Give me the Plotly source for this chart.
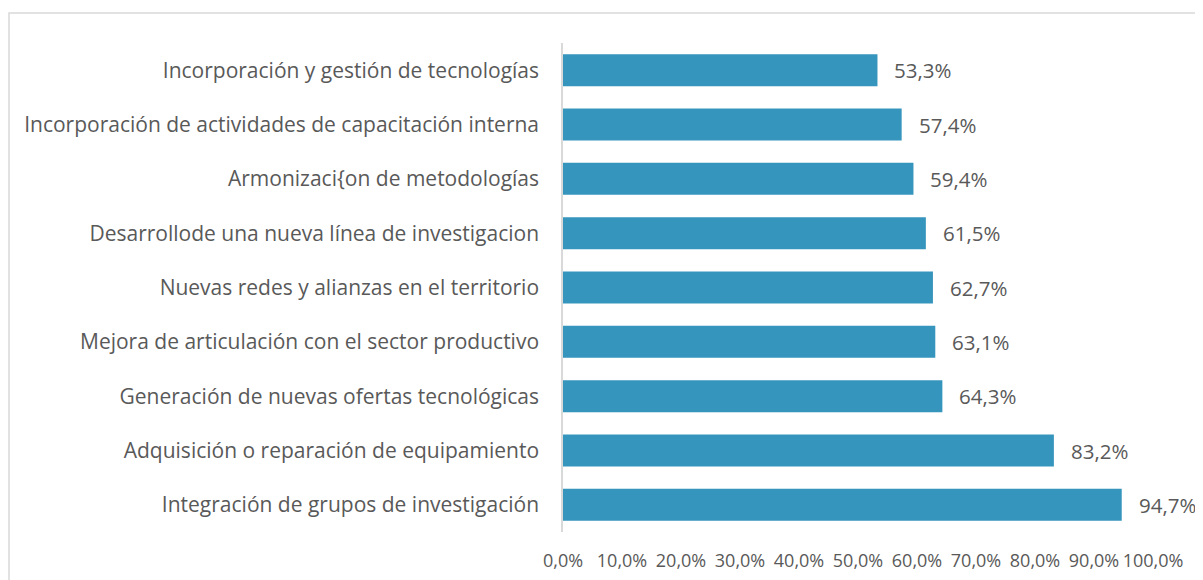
import plotly.graph_objects as go

categories = [
    "Incorporación y gestión de tecnologías",
    "Incorporación de actividades de capacitación interna",
    "Armonizaci{on de metodologías",
    "Desarrollode una nueva línea de investigacion",
    "Nuevas redes y alianzas en el territorio",
    "Mejora de articulación con el sector productivo",
    "Generación de nuevas ofertas tecnológicas",
    "Adquisición o reparación de equipamiento",
    "Integración de grupos de investigación",
]
values = [53.3, 57.4, 59.4, 61.5, 62.7, 63.1, 64.3, 83.2, 94.7]
value_labels = [f"{v:.1f}%".replace(".", ",") for v in values]
tick_values = [0, 10, 20, 30, 40, 50, 60, 70, 80, 90, 100]
tick_labels = [f"{t:.1f}%".replace(".", ",") for t in tick_values]

FONT = "'Open Sans', sans-serif"
GRAY = "#595959"

# page body has an 8px margin; figure is sized/offset to compensate
W, H = 1195, 572
L, R, T, B = 555, 50, 35, 48
PW, PH = W - L - R, H - T - B

fig = go.Figure()
fig.add_trace(go.Bar(
    x=values, y=categories, orientation="h",
    marker=dict(color="#3595bc", line=dict(width=0)),
    width=0.59,
    hoverinfo="x+y",
))

for c, v, t in zip(categories, values, value_labels):
    fig.add_annotation(x=v, y=c, text=t, showarrow=False, xanchor="left",
                       xshift=15, font=dict(family=FONT, size=20.5, color=GRAY))

fig.update_layout(
    width=W, height=H,
    margin=dict(l=L, r=R, t=T, b=B, autoexpand=False),
    paper_bgcolor="white", plot_bgcolor="white",
    showlegend=False,
    font=dict(family=FONT, color=GRAY),
    xaxis=dict(range=[0, 100], tickvals=tick_values, ticktext=tick_labels,
               showgrid=False, zeroline=False, showline=False, automargin=False,
               tickfont=dict(family=FONT, size=18, color=GRAY), tickangle=0,
               ticks="", ticklabelstandoff=16, fixedrange=True),
    yaxis=dict(autorange="reversed", showgrid=False, zeroline=False, automargin=False,
               showline=True, linecolor="#d9d9d9", linewidth=1.5,
               tickfont=dict(family=FONT, size=21, color=GRAY),
               ticks="", ticklabelstandoff=18, fixedrange=True),
    shapes=[dict(type="rect", xref="paper", yref="paper",
                 x0=(1 - L) / PW, x1=(W + 20 - L) / PW,
                 y0=-(B + 20) / PH, y1=(H - B - 5) / PH,
                 line=dict(color="#d9d9d9", width=1.5), fillcolor="rgba(0,0,0,0)",
                 layer="below")],
)

fig.write_html("out.html")
